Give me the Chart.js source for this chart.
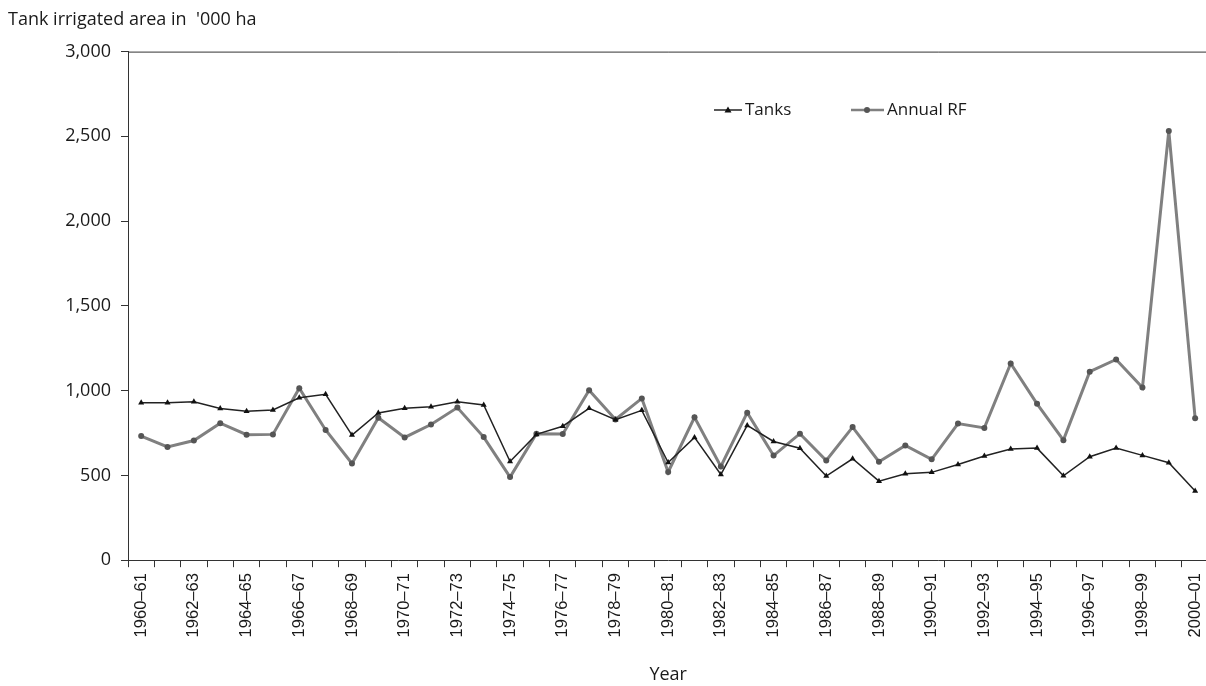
<!DOCTYPE html>
<html>
<head>
<meta charset="utf-8">
<script src="https://cdn.jsdelivr.net/npm/chart.js@4/dist/chart.umd.min.js"></script>
<style>
    html, body { margin: 0; padding: 0; background: #fff; overflow: hidden; }
    #wrap { width: 1206px; height: 686px; overflow: hidden; }
</style>
</head>
<body>
<div id="wrap"><canvas id="tankChart" width="1221" height="686"></canvas></div>
<script>
// Years 1960-61 .. 2000-01
const years = [
    '1960–61', '1961–62', '1962–63', '1963–64', '1964–65', '1965–66', '1966–67', '1967–68',
    '1968–69', '1969–70', '1970–71', '1971–72', '1972–73', '1973–74', '1974–75', '1975–76',
    '1976–77', '1977–78', '1978–79', '1979–80', '1980–81', '1981–82', '1982–83', '1983–84',
    '1984–85', '1985–86', '1986–87', '1987–88', '1988–89', '1989–90', '1990–91', '1991–92',
    '1992–93', '1993–94', '1994–95', '1995–96', '1996–97', '1997–98', '1998–99', '1999–00',
    '2000–01'
];

// Tank irrigated area, '000 ha
const tanks = [
    928, 928, 935, 895, 878, 886, 958, 978, 738, 868,
    896, 905, 935, 915, 582, 742, 790, 896, 828, 884,
    576, 724, 505, 795, 700, 660, 496, 598, 466, 510,
    518, 564, 614, 656, 661, 498, 610, 662, 618, 575,
    408
];

// Annual rainfall
const annualRF = [
    732, 668, 706, 808, 740, 742, 1014, 768, 570, 840,
    724, 800, 900, 726, 490, 746, 744, 1002, 830, 954,
    520, 843, 553, 870, 617, 746, 588, 785, 581, 677,
    595, 806, 780, 1160, 922, 708, 1112, 1184, 1018, 2532,
    837
];

const seriesNames = ['Tanks', 'Annual RF'];

Chart.defaults.font.family = '"Open Sans", sans-serif';
Chart.defaults.color = '#1a1a1a';

// top frame line + legend placed inside the plot
const framePlugin = {
    id: 'frame',
    afterDraw(chart) {
        const { ctx, chartArea } = chart;
        ctx.save();
        ctx.strokeStyle = '#333';
        ctx.lineWidth = 1;
        ctx.beginPath();
        ctx.moveTo(chartArea.left, chartArea.top + 0.5);
        ctx.lineTo(chartArea.right, chartArea.top + 0.5);
        ctx.stroke();

        // legend
        const y = 110;
        ctx.font = '17px "Open Sans", sans-serif';
        ctx.textBaseline = 'middle';

        // Tanks
        ctx.strokeStyle = '#222';
        ctx.lineWidth = 1.5;
        ctx.beginPath();
        ctx.moveTo(714, y); ctx.lineTo(742, y); ctx.stroke();
        ctx.fillStyle = '#111';
        ctx.beginPath();
        ctx.moveTo(728, y - 3.5); ctx.lineTo(731.5, y + 2.5); ctx.lineTo(724.5, y + 2.5);
        ctx.closePath(); ctx.fill();
        ctx.fillStyle = '#1a1a1a';
        ctx.fillText(seriesNames[0], 745, y);

        // Annual RF
        ctx.strokeStyle = '#808080';
        ctx.lineWidth = 2.5;
        ctx.beginPath();
        ctx.moveTo(851, y); ctx.lineTo(884, y); ctx.stroke();
        ctx.fillStyle = '#555';
        ctx.beginPath();
        ctx.arc(867, y, 3, 0, Math.PI * 2); ctx.fill();
        ctx.fillStyle = '#1a1a1a';
        ctx.fillText(seriesNames[1], 887, y);
        ctx.restore();
    }
};

new Chart(document.getElementById('tankChart'), {
    type: 'line',
    data: {
        labels: years,
        datasets: [
            {
                label: seriesNames[0],
                data: tanks,
                borderColor: '#222',
                borderWidth: 1.5,
                pointStyle: 'triangle',
                pointRadius: 3.5,
                pointBackgroundColor: '#111',
                pointBorderColor: '#111',
                pointBorderWidth: 0,
                tension: 0,
                order: 1
            },
            {
                label: seriesNames[1],
                data: annualRF,
                borderColor: '#808080',
                borderWidth: 3,
                pointStyle: 'circle',
                pointRadius: 3,
                pointBackgroundColor: '#555',
                pointBorderColor: '#555',
                pointBorderWidth: 0,
                tension: 0,
                order: 2
            }
        ]
    },
    options: {
        responsive: false,
        animation: false,
        layout: { padding: { top: 0, left: 8, right: 4, bottom: 0 } },
        plugins: {
            legend: { display: false },
            tooltip: { enabled: false },
            title: {
                display: true,
                text: "Tank irrigated area in  '000 ha",
                align: 'start',
                font: { size: 18, weight: 'normal' },
                color: '#1a1a1a',
                padding: { top: 9, bottom: 21 }
            }
        },
        scales: {
            y: {
                min: 0,
                max: 3000,
                border: { color: '#333', width: 1 },
                grid: { drawOnChartArea: false, tickLength: 7, color: '#333' },
                afterFit: (axis) => { axis.width = 120; },
                ticks: {
                    stepSize: 500,
                    font: { size: 18 },
                    color: '#1a1a1a',
                    padding: 10,
                    callback: (v) => v.toLocaleString('en-US')
                }
            },
            x: {
                offset: true,
                border: { color: '#333', width: 1 },
                grid: { drawOnChartArea: false, tickLength: 7, color: '#333', offset: true },
                ticks: {
                    autoSkip: false,
                    minRotation: 90,
                    maxRotation: 90,
                    font: { family: '"Liberation Sans", Arial, sans-serif', size: 16.5 },
                    color: '#1a1a1a',
                    padding: 6,
                    callback: function (v, i) { return i % 2 === 0 ? this.getLabelForValue(v) : ''; }
                },
                title: {
                    display: true,
                    text: 'Year',
                    font: { size: 18 },
                    color: '#1a1a1a',
                    padding: { top: 21, bottom: 0 }
                }
            }
        }
    },
    plugins: [framePlugin]
});
</script>
</body>
</html>
